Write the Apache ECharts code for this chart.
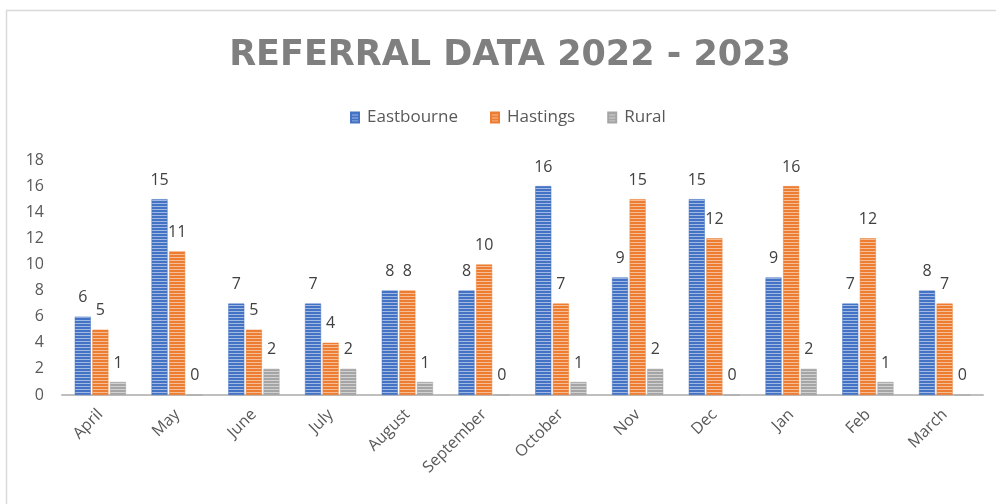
<!DOCTYPE html>
<html>
<head>
<meta charset="utf-8">
<script src="https://cdn.jsdelivr.net/npm/echarts@6/dist/echarts.min.js"></script>
<style>
  html, body { margin: 0; padding: 0; background: #fff; }
  #main { width: 996px; height: 504px; }
</style>
</head>
<body>
<div id="main"></div>
<script>
const months = ['April', 'May', 'June', 'July', 'August', 'September', 'October', 'Nov', 'Dec', 'Jan', 'Feb', 'March']
const eastbourne = [6, 15, 7, 7, 8, 8, 16, 9, 15, 9, 7, 8]
const hastings = [5, 11, 5, 4, 8, 10, 7, 15, 12, 16, 12, 7]
const rural = [1, 0, 2, 2, 1, 0, 1, 2, 0, 2, 1, 0]

// striped fill like the Excel pattern
function stripes(color) {
  const c = document.createElement('canvas')
  c.width = 4
  c.height = 3
  const ctx = c.getContext('2d')
  ctx.fillStyle = color
  ctx.fillRect(0, 0, 4, 3)
  ctx.fillStyle = 'rgba(255,255,255,0.5)'
  ctx.fillRect(0, 2, 4, 1)
  return { image: c, repeat: 'repeat' }
}

let chart = echarts.init(document.querySelector('#main'))

const labelStyle = {
  show: true,
  position: 'top',
  distance: 11,
  color: '#404040',
  fontSize: 16,
  fontFamily: 'Open Sans'
}

function barSeries(name, color, data) {
  return {
    type: 'bar',
    name: name,
    data: data,
    barWidth: 16,
    barGap: '10%',
    itemStyle: { color: stripes(color), borderColor: color, borderWidth: 0.5 },
    label: labelStyle
  }
}

let option = {
  animation: false,
  backgroundColor: '#fff',
  title: {
    text: 'REFERRAL DATA 2022 - 2023',
    left: 505,
    top: 33,
    textAlign: 'center',
    textStyle: {
      color: '#7f7f7f',
      fontSize: 35,
      fontWeight: 'bold',
      fontFamily: 'DejaVu Sans'
    }
  },
  legend: {
    top: 104,
    left: 345,
    itemWidth: 8,
    itemHeight: 10,
    itemGap: 32,
    icon: 'rect',
    textStyle: { color: '#595959', fontSize: 17, fontFamily: 'Open Sans', padding: [0, 0, 0, 3] },
    data: ['Eastbourne', 'Hastings', 'Rural']
  },
  grid: { left: 62, right: 13, top: 160, bottom: 109 },
  xAxis: {
    type: 'category',
    data: months,
    axisLine: { lineStyle: { color: '#bfbfbf', width: 2 } },
    axisTick: { show: false },
    axisLabel: {
      rotate: 45,
      margin: 17,
      color: '#595959',
      fontSize: 16,
      fontFamily: 'Open Sans'
    }
  },
  yAxis: {
    type: 'value',
    min: 0,
    max: 18,
    interval: 2,
    splitLine: { show: false },
    axisLine: { show: false },
    axisTick: { show: false },
    axisLabel: { color: '#595959', fontSize: 16, fontFamily: 'Open Sans', margin: 18 }
  },
  graphic: [{
    type: 'rect',
    silent: true,
    shape: { x: 6.5, y: 10.5, width: 1000, height: 600 },
    style: { fill: 'none', stroke: '#d9d9d9', lineWidth: 1.5 }
  }],
  series: [
    barSeries('Eastbourne', '#4472c4', eastbourne),
    barSeries('Hastings', '#ed7d31', hastings),
    barSeries('Rural', '#a5a5a5', rural)
  ]
}

chart.setOption(option)
</script>
</body>
</html>
